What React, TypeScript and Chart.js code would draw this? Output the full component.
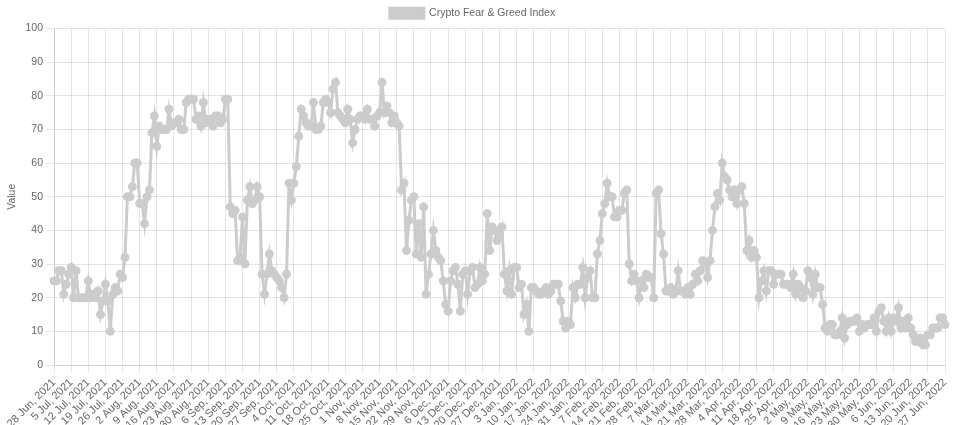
import React, { useEffect, useRef } from "react";
import { Chart, registerables } from "chart.js";

Chart.register(...registerables);

// Daily Crypto Fear & Greed Index, 28 Jun 2021 .. 27 Jun 2022
const START_YEAR = 2021;
const START_MONTH = 5; // June (0-based)
const START_DAY = 28;
const MONTHS = ["Jan", "Feb", "Mar", "Apr", "May", "Jun", "Jul", "Aug", "Sep", "Oct", "Nov", "Dec"];

const julAug2021 = [
  25, 25, 28, 28, 21, 24, 27, 29, 20, 28,
  20, 20, 20, 20, 25, 20, 21, 20, 22, 15,
  19, 24, 19, 10, 21, 23, 22, 27, 26, 32,
  50, 50, 53, 60, 60, 48, 48, 42, 50, 52,
  69, 74, 65, 71, 70, 70, 70, 76, 71, 72,
  72, 73, 70, 70, 78, 79, 79, 79, 73, 74,
];
const sepOct2021 = [
  71, 78, 72, 73, 73, 71, 74, 74, 72, 73,
  79, 79, 47, 45, 46, 31, 32, 44, 30, 49,
  53, 48, 49, 53, 50, 27, 21, 27, 33, 28,
  27, 26, 25, 23, 20, 27, 54, 49, 54, 59,
  68, 76, 74, 72, 71, 71, 78, 70, 70, 71,
  78, 79, 78, 75, 82, 84, 75, 74, 73, 72,
];
const novDec2021 = [
  76, 73, 66, 70, 73, 74, 74, 73, 76, 73,
  73, 71, 74, 75, 84, 75, 77, 75, 72, 74,
  72, 71, 52, 54, 34, 43, 49, 50, 33, 42,
  32, 47, 21, 27, 33, 40, 34, 32, 31, 25,
  18, 16, 25, 28, 29, 24, 16, 27, 28, 21,
  28, 29, 23, 24, 29, 25, 27, 45, 34, 41,
];
const janFeb2022 = [
  40, 37, 39, 41, 27, 22, 28, 21, 29, 29,
  23, 24, 15, 18, 10, 23, 23, 22, 21, 21,
  22, 23, 21, 22, 24, 24, 24, 19, 13, 11,
  13, 12, 23, 20, 24, 24, 29, 20, 26, 28,
  20, 20, 33, 37, 45, 48, 54, 50, 50, 44,
  44, 46, 46, 51, 52, 30, 25, 27, 25, 20,
];
const marApr2022 = [
  25, 23, 27, 26, 26, 20, 51, 52, 39, 33,
  22, 22, 23, 21, 22, 28, 22, 22, 21, 23,
  21, 24, 27, 25, 28, 31, 30, 26, 31, 40,
  47, 51, 49, 60, 56, 55, 52, 50, 52, 48,
  52, 53, 48, 34, 37, 32, 34, 32, 20, 25,
  28, 22, 28, 28, 24, 27, 27, 27, 24, 24,
];
const mayJun2022 = [
  24, 23, 27, 21, 24, 23, 20, 22, 28, 26,
  21, 27, 23, 23, 18, 11, 10, 12, 12, 9,
  9, 10, 14, 8, 12, 13, 13, 13, 14, 10,
  12, 11, 12, 12, 12, 14, 10, 16, 17, 13,
  10, 14, 10, 14, 13, 17, 11, 13, 11, 14,
  11, 9, 7, 7, 8, 6, 6, 9, 9, 11,
  11, 11, 14, 14, 12,
];

const values = [...julAug2021, ...sepOct2021, ...novDec2021, ...janFeb2022, ...marApr2022, ...mayJun2022];

const labels = values.map((_, i) => {
  const d = new Date(Date.UTC(START_YEAR, START_MONTH, START_DAY + i));
  return `${d.getUTCDate()} ${MONTHS[d.getUTCMonth()]}, ${d.getUTCFullYear()}`;
});

const SERIES_NAME = "Crypto Fear & Greed Index";
const Y_TITLE = "Value";
const LINE_COLOR = "rgb(204, 204, 204)";
const GRID = "rgba(0, 0, 0, 0.1)";
const TICK_EVERY = 7;

export default function App() {
  const ref = useRef<HTMLCanvasElement | null>(null);
  useEffect(() => {
    if (!ref.current) return;
    const chart = new Chart(ref.current, {
      type: "line",
      data: {
        labels,
        datasets: [
          {
            label: SERIES_NAME,
            data: values,
            borderColor: LINE_COLOR,
            backgroundColor: LINE_COLOR,
            borderWidth: 3,
            pointRadius: 3,
            pointBackgroundColor: LINE_COLOR,
            pointBorderColor: LINE_COLOR,
            fill: false,
            tension: 0,
          },
        ],
      },
      options: {
        animation: false,
        responsive: true,
        maintainAspectRatio: false,
        layout: { padding: { top: 1, right: 11, left: 0, bottom: 0 } },
        plugins: {
          legend: {
            display: true,
            position: "top",
            labels: { font: { size: 10.5 }, boxWidth: 34, boxHeight: 10, padding: 7 },
          },
          tooltip: { enabled: false },
        },
        scales: {
          x: {
            grid: {
              color: (ctx: any) => (ctx.index % TICK_EVERY === 0 ? GRID : "rgba(0,0,0,0)"),
            },
            ticks: {
              autoSkip: false,
              maxRotation: 45,
              minRotation: 45,
              font: { size: 11 },
              callback: (_v: any, i: number) => (i % TICK_EVERY === 0 ? labels[i] : ""),
            },
            afterFit: (s: any) => {
              s.height = 60;
              s.paddingLeft = 0;
              s.paddingRight = 0;
            },
          },
          y: {
            min: 0,
            max: 100,
            ticks: { stepSize: 10, font: { size: 10.5 } },
            title: { display: true, text: Y_TITLE, font: { size: 10.5 }, padding: { top: 6, bottom: 6 } },
            afterFit: (s: any) => {
              s.width = 54;
            },
          },
        },
      },
    });
    return () => chart.destroy();
  }, []);
  return (
    <div style={{ position: "fixed", left: 0, top: 0, width: 956, height: 425 }}>
      <canvas ref={ref} />
    </div>
  );
}
